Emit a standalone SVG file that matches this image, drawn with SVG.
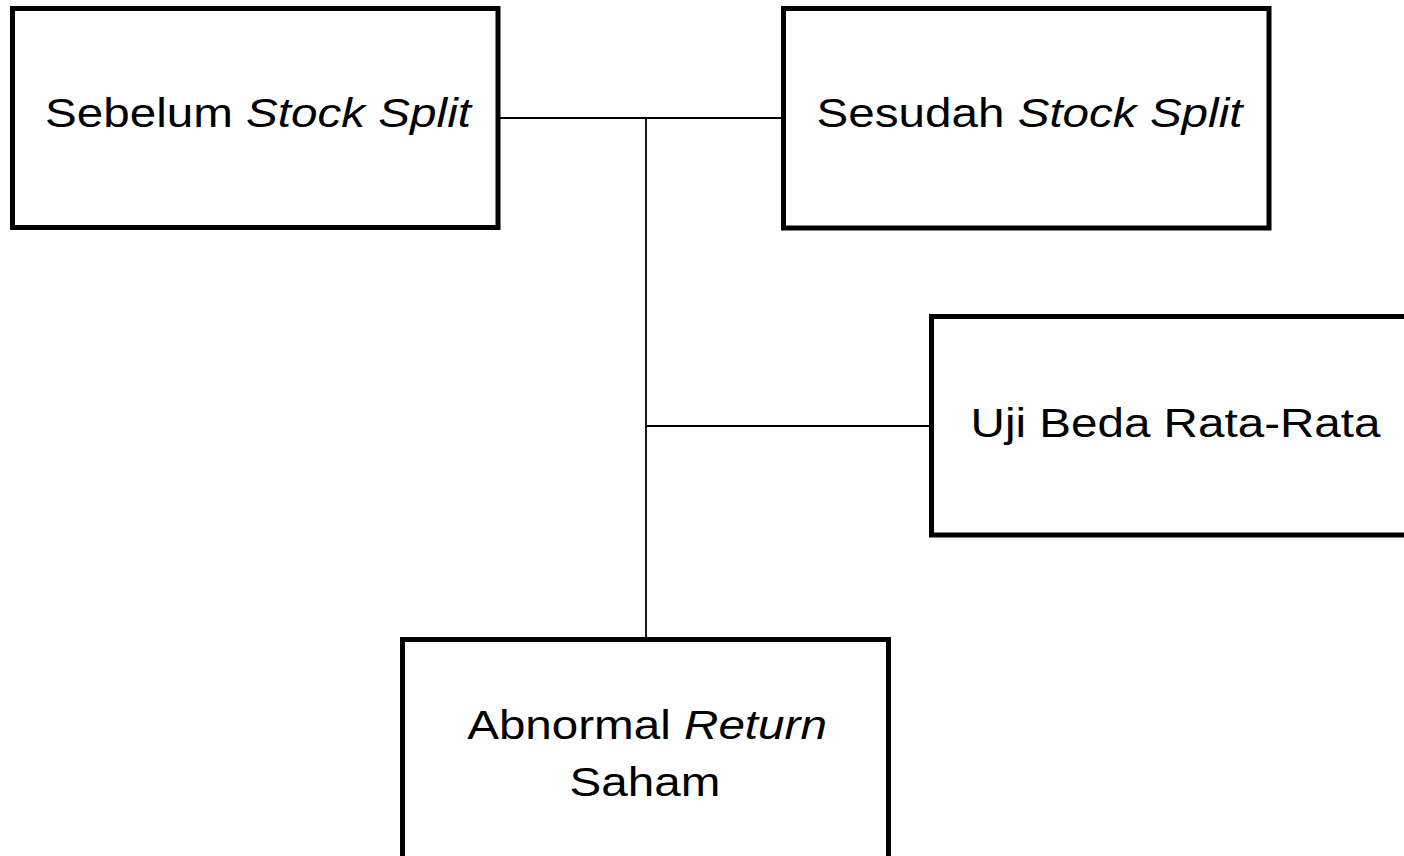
<svg xmlns="http://www.w3.org/2000/svg" width="1404" height="856" viewBox="0 0 1404 856">
  <style>
    .box { fill: #ffffff; stroke: #000000; stroke-width: 5; stroke-linejoin: miter; }
    .link { fill: none; stroke: #000000; stroke-width: 1.8; }
    .label { font-family: "Liberation Sans", Arial, sans-serif; font-size: 40px; fill: #000000; text-anchor: middle; }
    .em { font-style: italic; }
  </style>
  <rect width="1404" height="856" fill="#ffffff"/>

  <!-- connectors -->
  <g id="connectors">
    <line class="link" x1="498" y1="118" x2="783" y2="118"/>
    <line class="link" x1="646" y1="118" x2="646" y2="639"/>
    <line class="link" x1="646" y1="426" x2="931" y2="426"/>
  </g>

  <g id="node-sebelum">
    <rect class="box" x="12.5" y="8.5" width="485.5" height="219"/>
    <text class="label" transform="translate(258,127) scale(1.19,1)">Sebelum <tspan class="em">Stock Split</tspan></text>
  </g>

  <g id="node-sesudah">
    <rect class="box" x="783.5" y="8.5" width="485.5" height="219.5"/>
    <text class="label" transform="translate(1029.5,127) scale(1.19,1)">Sesudah <tspan class="em">Stock Split</tspan></text>
  </g>

  <g id="node-uji">
    <rect class="box" x="931.5" y="316.5" width="500" height="218.5"/>
    <text class="label" transform="translate(1175.5,437) scale(1.19,1)">Uji Beda Rata-Rata</text>
  </g>

  <g id="node-abnormal">
    <rect class="box" x="402.5" y="639.5" width="486" height="240"/>
    <text class="label" transform="translate(647,739) scale(1.19,1)">Abnormal <tspan class="em">Return</tspan></text>
    <text class="label" transform="translate(645,796) scale(1.19,1)">Saham</text>
  </g>
</svg>
